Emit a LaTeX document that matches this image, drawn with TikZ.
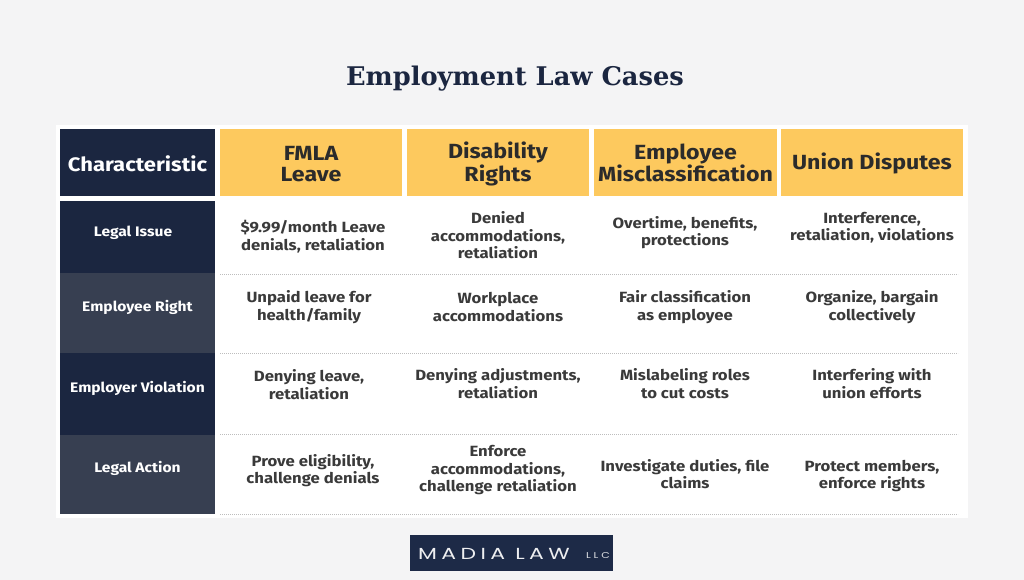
\documentclass[tikz,border=0pt]{standalone}
\usepackage{fontspec}
\setmainfont{Fira Sans}[FakeStretch=1.13]
\newfontfamily\titlefont{DejaVu Serif}
\newfontfamily\logofont[LetterSpace=20]{Poppins}
\newfontfamily\llcfont[LetterSpace=25]{Poppins}
\definecolor{bg}{HTML}{F4F4F5}
\definecolor{navy}{HTML}{1B2640}
\definecolor{slate}{HTML}{373F51}
\definecolor{gold}{HTML}{FDC95E}
\definecolor{ink}{HTML}{3A3A3A}
\definecolor{headink}{HTML}{2B2B2B}
\definecolor{dotc}{HTML}{BDBDBD}
\definecolor{logobg}{HTML}{1D2A47}
\begin{document}
\begin{tikzpicture}[x=1pt,y=-1pt,
  cell/.style={align=center,font=\fontsize{14.8}{17.5}\selectfont\bfseries,text=ink,inner sep=0pt},
  head/.style={align=center,font=\fontsize{20.5}{21}\selectfont\bfseries,text=headink,inner sep=0pt},
  lab/.style={align=center,font=\fontsize{13.8}{16}\selectfont\bfseries,text=white,inner sep=0pt},
  sep/.style={draw=dotc,line width=0.8pt,dash pattern=on 0.8pt off 1.2pt}]
\useasboundingbox (0,0) rectangle (1024,580);
\fill[bg] (0,0) rectangle (1024,580);
\fill[white] (56,125) rectangle (968,518);
% title
\node[font=\titlefont\fontsize{25.7}{28}\selectfont\bfseries,text=navy,inner sep=0pt] (title) at (515,79) {Employment Law Cases};
% header
\fill[navy] (60,129) rectangle (215,196);
\fill[gold] (220,129) rectangle (402,196);
\fill[gold] (407,129) rectangle (589,196);
\fill[gold] (594,129) rectangle (777,196);
\fill[gold] (781,129) rectangle (963,196);
\node[head,text=white,font=\fontsize{19.5}{21}\selectfont\bfseries] (hc) at (137.5,164) {Characteristic};
\node[head] (h1) at (311,164) {FMLA\\Leave};
\node[head] (h2) at (498,164) {Disability\\Rights};
\node[head] (h3) at (685.5,162.5) {Employee\\Misclassification};
\node[head] (h4) at (872,163) {Union Disputes};
% left column
\fill[navy] (60,201) rectangle (215,273);
\fill[slate] (60,273) rectangle (215,353);
\fill[navy] (60,353) rectangle (215,435);
\fill[slate] (60,435) rectangle (215,514);
\node[lab] (l1) at (133,233) {Legal Issue};
\node[lab] (l2) at (137.5,307) {Employee Right};
\node[lab] (l3) at (137.5,388) {Employer Violation};
\node[lab] (l4) at (137.5,468) {Legal Action};
% separators
\foreach \yy in {274,353.5,434,514}{\draw[sep] (220,\yy) -- (958,\yy);}
% row 1
\node[cell] (c11) at (313,236.5) {\$9.99/month Leave\\denials, retaliation};
\node[cell] (c12) at (498,235.5) {Denied\\accommodations,\\retaliation};
\node[cell] (c13) at (685,232.5) {Overtime, benefits,\\protections};
\node[cell] (c14) at (872,227.5) {Interference,\\retaliation, violations};
% row 2
\node[cell] (c21) at (309,307) {Unpaid leave for\\health/family};
\node[cell] (c22) at (498,307) {Workplace\\accommodations};
\node[cell] (c23) at (685,307) {Fair classification\\as employee};
\node[cell] (c24) at (872,307) {Organize, bargain\\collectively};
% row 3
\node[cell] (c31) at (309,384.5) {Denying leave,\\retaliation};
\node[cell] (c32) at (498,383.5) {Denying adjustments,\\retaliation};
\node[cell] (c33) at (685,383.5) {Mislabeling roles\\to cut costs};
\node[cell] (c34) at (872,383.5) {Interfering with\\union efforts};
% row 4
\node[cell] (c41) at (313,470.5) {Prove eligibility,\\challenge denials};
\node[cell] (c42) at (498,470.5) {Enforce\\accommodations,\\challenge retaliation};
\node[cell] (c43) at (685,474) {Investigate duties, file\\claims};
\node[cell] (c44) at (872,476) {Protect members,\\enforce rights};
% logo
\fill[logobg] (410,535) rectangle (613,571);
\node[text=white!92!logobg,inner sep=0pt,anchor=base west] (logo) at (418,559.5) {\scalebox{1.37}[1]{\logofont\fontsize{16}{15}\selectfont MADIA LAW}};
\node[text=white!85!logobg,inner sep=0pt,anchor=base west] (llc) at (586,558.5) {\scalebox{1.3}[1]{\llcfont\fontsize{8.5}{7}\selectfont LLC}};
\end{tikzpicture}
\end{document}
